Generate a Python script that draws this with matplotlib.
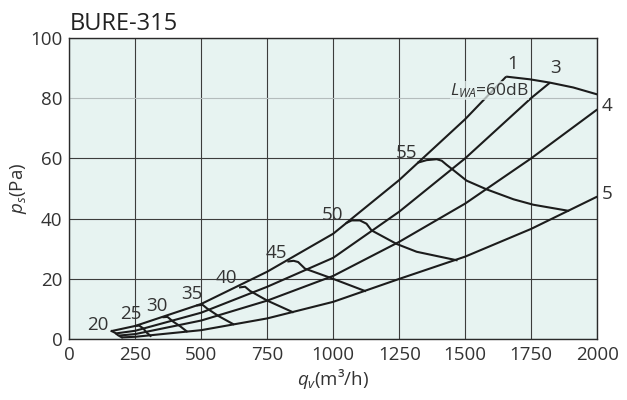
import matplotlib
matplotlib.use("Agg")
import matplotlib.pyplot as plt

plt.rcParams["font.family"] = "Open Sans"
plt.rcParams["mathtext.fontset"] = "custom"
plt.rcParams["mathtext.rm"] = "Open Sans"
plt.rcParams["mathtext.it"] = "Open Sans:italic"

# system curves 1, 3, 4, 5  (q in m3/h, p in Pa)
c1_q = [160, 250, 500, 750, 1000, 1250, 1500, 1655]
c1_p = [2.7, 4.4, 11.7, 22.4, 35.0, 52.8, 73.0, 87.1]
c3_q = [175, 250, 500, 750, 1000, 1250, 1500, 1750, 1821]
c3_p = [1.9, 2.8, 8.8, 17.4, 27.0, 42.3, 60.0, 80.0, 85.1]
c4_q = [188, 250, 500, 750, 1000, 1250, 1500, 1750, 2000]
c4_p = [1.2, 1.7, 6.2, 12.8, 21.0, 32.3, 45.0, 60.0, 76.2]
c5_q = [199, 250, 500, 750, 1000, 1250, 1500, 1750, 2000]
c5_p = [0.6, 0.8, 3.0, 6.9, 12.4, 20.0, 27.4, 36.6, 47.3]

# max fan curve
top_q = [1655, 1745, 1821, 1909, 2000]
top_p = [87.1, 86.2, 85.1, 83.5, 81.2]

# sound level curves LWA (dB)
iso_db = [20, 25, 30, 35, 40, 45, 50, 55]
iso_q = [
    [160, 172, 185, 199],
    [253, 265, 280, 293, 308],
    [357, 372, 394, 420, 445],
    [485, 505, 522, 565, 621],
    [647, 666, 685, 750, 846],
    [830, 850, 867, 893, 988, 1120],
    [1051, 1070, 1101, 1126, 1145, 1240, 1316, 1467],
    [1322, 1354, 1392, 1411, 1430, 1452, 1505, 1581, 1683, 1758, 1890],
]
iso_p = [
    [2.7, 2.2, 1.3, 0.6],
    [4.4, 4.5, 3.6, 2.2, 1.1],
    [7.3, 7.4, 5.8, 4.3, 2.6],
    [11.2, 11.4, 10.2, 7.7, 5.0],
    [17.2, 17.4, 16.0, 12.8, 9.0],
    [25.8, 26.0, 25.6, 23.4, 20.4, 16.0],
    [38.6, 39.4, 39.4, 38.3, 36.1, 31.6, 29.0, 26.2],
    [58.6, 59.4, 59.7, 59.2, 57.8, 56.3, 52.6, 49.7, 46.4, 44.6, 42.6],
]
iso_lab_q = [109, 234, 332, 465, 594, 783, 999, 1279]
iso_lab_p = [4.7, 8.4, 11.0, 15.0, 20.3, 28.6, 41.2, 61.8]

curve_names = ["1", "3", "4", "5"]
curve_lab_q = [1679, 1843, 2037, 2037]
curve_lab_p = [91.4, 89.8, 77.2, 48.3]

bg = "#e7f3f1"
ink = "#1c1c1c"
txt = "#333333"
fs = 13.5

fig = plt.figure(figsize=(6.27, 4.0), dpi=100)
ax = fig.add_axes([0.1105, 0.152, 0.842, 0.7537])
ax.set_facecolor(bg)
ax.set_xlim(0, 2000)
ax.set_ylim(0, 100)
ax.set_xticks(range(0, 2001, 250))
ax.set_yticks(range(0, 101, 20))
ax.tick_params(length=0, labelsize=fs, labelcolor=txt, pad=5)
ax.grid(True, color="#3c3c3c", linewidth=0.8)
ax.get_ygridlines()[4].set_color("#b4bcbc")
ax.set_axisbelow(True)
for s in ax.spines.values():
    s.set_color("#2a2a2a")
    s.set_linewidth(1.0)

lw = 1.5
for q, p in [(c1_q, c1_p), (c3_q, c3_p), (c4_q, c4_p), (c5_q, c5_p), (top_q, top_p)]:
    ax.plot(q, p, color=ink, linewidth=lw, solid_capstyle="butt", zorder=3)
for q, p in zip(iso_q, iso_p):
    ax.plot(q, p, color=ink, linewidth=lw, solid_joinstyle="round", zorder=3)

for d, x, y in zip(iso_db, iso_lab_q, iso_lab_p):
    ax.text(x, y, str(d), fontsize=fs, color=txt, ha="center", va="center", zorder=5)
for n, x, y in zip(curve_names, curve_lab_q, curve_lab_p):
    ax.text(x, y, n, fontsize=fs, color=txt, ha="center", va="center",
            clip_on=False, zorder=5)

ax.text(1443, 81, "$L_{WA}$=60dB", fontsize=12.5, color=txt, ha="left", va="baseline",
        zorder=4, bbox=dict(facecolor=bg, edgecolor="none", alpha=0.7, pad=0))

ax.set_xlabel("$q_v$(m³/h)", fontsize=fs, color=txt, labelpad=2)
ax.set_ylabel("$p_s$(Pa)", fontsize=fs, color=txt, labelpad=1)
fig.text(0.112, 0.925, "BURE-315", fontsize=17, color="#222222", ha="left", va="baseline")

fig.savefig("out.png", dpi=100)
